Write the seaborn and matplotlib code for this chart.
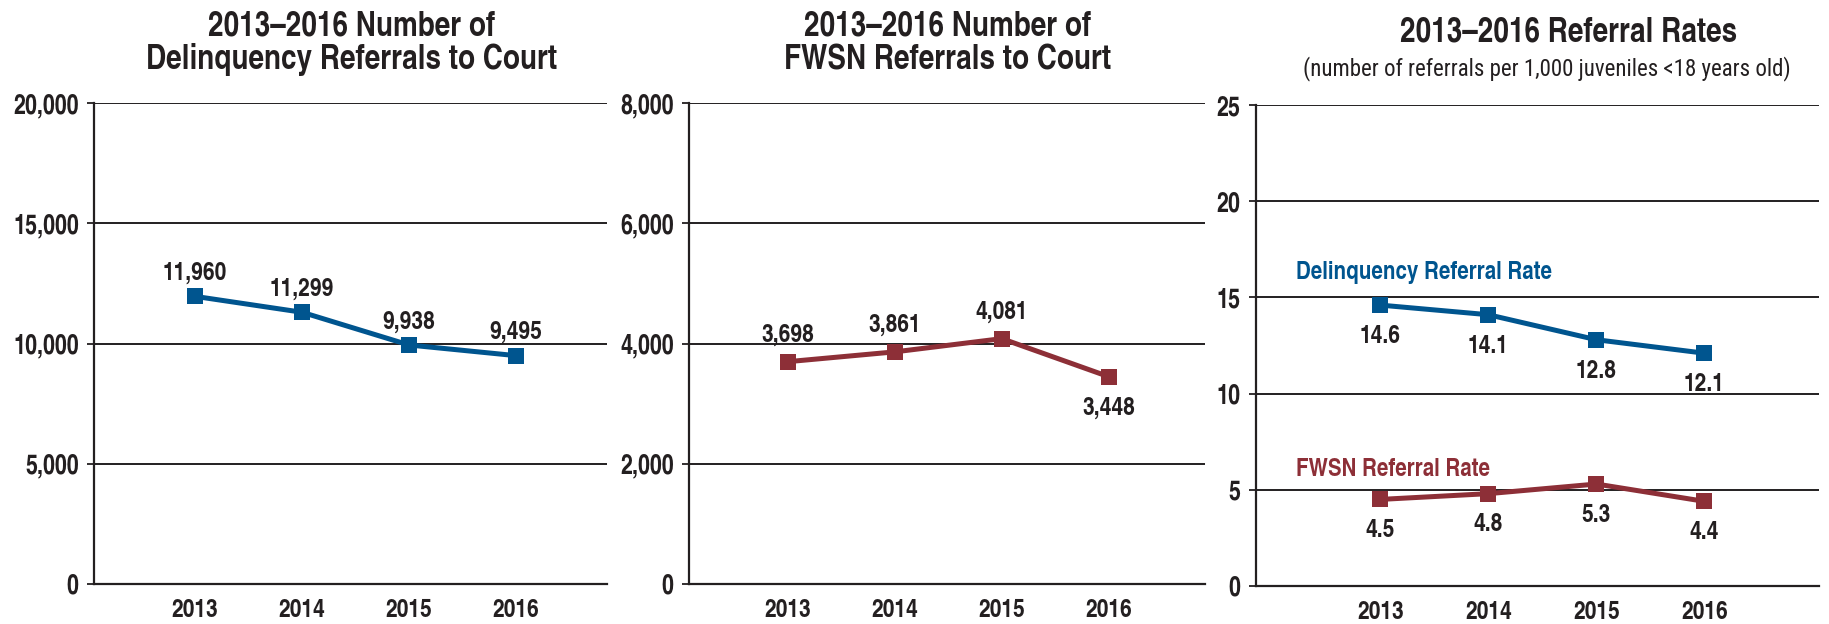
import matplotlib
matplotlib.use("Agg")
import matplotlib.pyplot as plt
import seaborn as sns
import pandas as pd

# ---- data ----
years = [2013, 2014, 2015, 2016]
delinquency_referrals = [11960, 11299, 9938, 9495]
fwsn_referrals = [3698, 3861, 4081, 3448]
delinquency_rate = [14.6, 14.1, 12.8, 12.1]
fwsn_rate = [4.5, 4.8, 5.3, 4.4]

yticks_counts1 = [0, 5000, 10000, 15000, 20000]
yticks_counts2 = [0, 2000, 4000, 6000, 8000]
yticks_rates = [0, 5, 10, 15, 20, 25]

BLUE = "#00558f"
RED = "#8d2f37"
INK = "#231f20"

sns.set_theme(style="white")
plt.rcParams["font.family"] = ["TeX Gyre Heros Cn", "DejaVu Sans"]
plt.rcParams["text.color"] = INK

df1 = pd.DataFrame({"year": years, "value": delinquency_referrals})
df2 = pd.DataFrame({"year": years, "value": fwsn_referrals})
df3 = pd.DataFrame({"year": years * 2,
                    "value": delinquency_rate + fwsn_rate,
                    "series": ["Delinquency"] * 4 + ["FWSN"] * 4})
for d in (df1, df2, df3):
    d["pos"] = d["year"] - years[0]

W, H = 1829, 624
fig = plt.figure(figsize=(W / 100, H / 100), dpi=100)

ax1 = fig.add_axes([94 / W, 1 - 584 / H, 513 / W, 481 / H])
ax2 = fig.add_axes([689 / W, 1 - 584 / H, 516 / W, 481 / H])
ax3 = fig.add_axes([1256 / W, 1 - 586 / H, 563 / W, 481 / H])

def style_axis(ax, yticks, xlim, fmt):
    ax.set_ylim(yticks[0], yticks[-1])
    ax.set_xlim(*xlim)
    ax.set_yticks(yticks)
    ax.set_yticklabels([fmt(v) for v in yticks], fontsize=19, fontweight="bold", color=INK)
    ax.set_xticks(range(len(years)))
    ax.set_xticklabels([str(y) for y in years], fontsize=18.5, fontweight="bold", color=INK)
    ax.tick_params(axis="y", direction="out", length=5, width=1.3, color=INK, pad=6, left=True)
    ax.tick_params(axis="x", length=0, pad=11)
    ax.grid(axis="y", color=INK, lw=1.4)
    ax.grid(axis="x", visible=False)
    for s in ("top", "right"):
        ax.spines[s].set_visible(False)
    for s in ("left", "bottom"):
        ax.spines[s].set_visible(True)
        ax.spines[s].set_color(INK)
        ax.spines[s].set_linewidth(1.6)
    ax.set_xlabel("")
    ax.set_ylabel("")
    ax.set_facecolor("white")
    ax.set_axisbelow(True)

line_kw = dict(marker="s", markersize=12, linewidth=3.6, markeredgewidth=0)

sns.lineplot(data=df1, x="pos", y="value", ax=ax1, color=BLUE, markerfacecolor=BLUE, **line_kw)
sns.lineplot(data=df2, x="pos", y="value", ax=ax2, color=RED, markerfacecolor=RED, **line_kw)
sns.lineplot(data=df3, x="pos", y="value", hue="series", ax=ax3,
             palette={"Delinquency": BLUE, "FWSN": RED}, legend=False, **line_kw)
for ln, c in zip(ax3.get_lines(), [BLUE, RED]):
    ln.set_markerfacecolor(c)

style_axis(ax1, yticks_counts1, (-0.944, 3.85), lambda v: f"{v:,}")
style_axis(ax2, yticks_counts2, (-0.925, 3.90), lambda v: f"{v:,}")
style_axis(ax3, yticks_rates, (-1.15, 4.06), lambda v: f"{v}")

lab_kw = dict(textcoords="offset points", ha="center", va="baseline",
              fontsize=18.5, fontweight="bold", color=INK)
for i, v in enumerate(delinquency_referrals):
    ax1.annotate(f"{v:,}", (i, v), xytext=(0, 12), **lab_kw)
for i, v in enumerate(fwsn_referrals):
    off = -27 if i == 3 else 14.5
    ax2.annotate(f"{v:,}", (i, v), xytext=(0, off), **lab_kw)
for i, v in enumerate(delinquency_rate):
    ax3.annotate(f"{v}", (i, v), xytext=(0, -27.5), **lab_kw)
for i, v in enumerate(fwsn_rate):
    ax3.annotate(f"{v}", (i, v), xytext=(0, -27), **lab_kw)

ax3.text(40 / 563, (586 - 279) / 481, "Delinquency Referral Rate", transform=ax3.transAxes,
         ha="left", va="baseline", fontsize=18, fontweight="bold", color=BLUE)
ax3.text(40 / 563, (586 - 476) / 481, "FWSN Referral Rate", transform=ax3.transAxes,
         ha="left", va="baseline", fontsize=18, fontweight="bold", color=RED)

t_kw = dict(ha="center", va="baseline", fontsize=24.5, fontweight="bold", color=INK)
fig.text(352 / W, 1 - 35 / H, "2013–2016 Number of", **t_kw)
fig.text(352 / W, 1 - 69 / H, "Delinquency Referrals to Court", **t_kw)
fig.text(948 / W, 1 - 35 / H, "2013–2016 Number of", **t_kw)
fig.text(948 / W, 1 - 69 / H, "FWSN Referrals to Court", **t_kw)
fig.text(1569 / W, 1 - 42 / H, "2013–2016 Referral Rates", **t_kw)
fig.text(1547 / W, 1 - 75 / H, "(number of referrals per 1,000 juveniles <18 years old)",
         ha="center", va="baseline", fontsize=16.5, color=INK,
         family=["Roboto Condensed", "TeX Gyre Heros Cn", "DejaVu Sans"])

fig.savefig("out.png", dpi=100, facecolor="white")
